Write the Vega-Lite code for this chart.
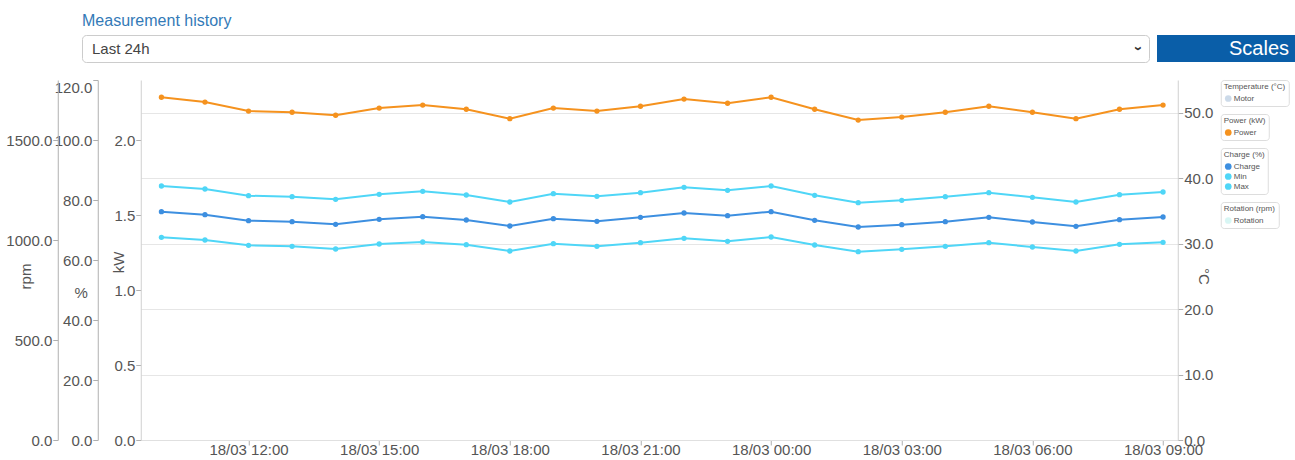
{
  "$schema": "https://vega.github.io/schema/vega-lite/v6.json",
  "background": "white",
  "padding": {"left": 5, "top": 12, "right": 0, "bottom": 0},
  "config": {
    "view": {"stroke": null},
    "title": {"anchor": "start", "fontSize": 16, "font": "Liberation Sans", "fontWeight": "normal", "color": "#337ab7", "offset": 6},
    "axis": {
      "labelFont": "Liberation Sans", "labelFontSize": 15, "labelColor": "#555",
      "titleFont": "Liberation Sans", "titleFontSize": 15, "titleFontWeight": "normal", "titleColor": "#555",
      "domainColor": "#b0b0b0", "tickColor": "#b0b0b0", "gridColor": "#e6e6e6", "tickSize": 5, "labelPadding": 1
    },
    "legend": {
      "orient": "right", "offset": 7, "titleFont": "Liberation Sans", "labelFont": "Liberation Sans",
      "titleFontSize": 8, "titleFontWeight": "normal", "titleColor": "#555", "labelFontSize": 8, "labelColor": "#555",
      "symbolSize": 45, "symbolType": "circle", "strokeColor": "#dddddd", "cornerRadius": 3,
      "padding": 3, "titlePadding": 3, "rowPadding": 1, "labelOffset": 1
    }
  },
  "datasets": {
    "history": [
      {"t": "2024-03-18T10:00:00", "Power": 2.285, "Charge": 76.1, "Min": 67.57, "Max": 84.67},
      {"t": "2024-03-18T11:00:00", "Power": 2.253, "Charge": 75.1, "Min": 66.67, "Max": 83.67},
      {"t": "2024-03-18T12:00:00", "Power": 2.193, "Charge": 73.1, "Min": 64.9, "Max": 81.43},
      {"t": "2024-03-18T13:00:00", "Power": 2.185, "Charge": 72.77, "Min": 64.57, "Max": 81.1},
      {"t": "2024-03-18T14:00:00", "Power": 2.165, "Charge": 71.9, "Min": 63.67, "Max": 80.23},
      {"t": "2024-03-18T15:00:00", "Power": 2.213, "Charge": 73.57, "Min": 65.33, "Max": 81.9},
      {"t": "2024-03-18T16:00:00", "Power": 2.233, "Charge": 74.43, "Min": 66.0, "Max": 82.9},
      {"t": "2024-03-18T17:00:00", "Power": 2.205, "Charge": 73.33, "Min": 65.1, "Max": 81.67},
      {"t": "2024-03-18T18:00:00", "Power": 2.142, "Charge": 71.33, "Min": 63.0, "Max": 79.33},
      {"t": "2024-03-18T19:00:00", "Power": 2.213, "Charge": 73.77, "Min": 65.43, "Max": 82.1},
      {"t": "2024-03-18T20:00:00", "Power": 2.193, "Charge": 72.9, "Min": 64.57, "Max": 81.23},
      {"t": "2024-03-18T21:00:00", "Power": 2.225, "Charge": 74.23, "Min": 65.77, "Max": 82.43},
      {"t": "2024-03-18T22:00:00", "Power": 2.273, "Charge": 75.67, "Min": 67.23, "Max": 84.23},
      {"t": "2024-03-18T23:00:00", "Power": 2.245, "Charge": 74.77, "Min": 66.23, "Max": 83.23},
      {"t": "2024-03-19T00:00:00", "Power": 2.285, "Charge": 76.1, "Min": 67.67, "Max": 84.67},
      {"t": "2024-03-19T01:00:00", "Power": 2.205, "Charge": 73.23, "Min": 65.0, "Max": 81.57},
      {"t": "2024-03-19T02:00:00", "Power": 2.133, "Charge": 71.0, "Min": 62.77, "Max": 79.1},
      {"t": "2024-03-19T03:00:00", "Power": 2.153, "Charge": 71.77, "Min": 63.57, "Max": 79.9},
      {"t": "2024-03-19T04:00:00", "Power": 2.185, "Charge": 72.77, "Min": 64.57, "Max": 81.1},
      {"t": "2024-03-19T05:00:00", "Power": 2.225, "Charge": 74.23, "Min": 65.77, "Max": 82.43},
      {"t": "2024-03-19T06:00:00", "Power": 2.185, "Charge": 72.67, "Min": 64.33, "Max": 80.9},
      {"t": "2024-03-19T07:00:00", "Power": 2.142, "Charge": 71.23, "Min": 63.0, "Max": 79.33},
      {"t": "2024-03-19T08:00:00", "Power": 2.205, "Charge": 73.43, "Min": 65.23, "Max": 81.77},
      {"t": "2024-03-19T09:00:00", "Power": 2.233, "Charge": 74.33, "Min": 65.9, "Max": 82.67}
    ]
  },
  "center": true,
  "spacing": 16,
  "vconcat": [
    {
      "spacing": 7,
      "hconcat": [
        {"width": 5, "height": 27, "title": " ", "data": {"values": [{"label": ""}]}, "mark": {"type": "text", "font": "Liberation Sans"}, "encoding": {"text": {"field": "label"}}},
        {
          "width": 1067, "height": 27,
          "title": "Measurement history",
          "view": {"stroke": "#cccccc", "fill": "white", "cornerRadius": 4},
          "data": {"values": [{"label": "Last 24h", "pos": 0}, {"label": "›", "pos": 1}]},
          "layer": [
            {
              "transform": [{"filter": "datum.pos == 0"}],
              "mark": {"type": "text", "font": "Liberation Sans", "align": "left", "baseline": "middle", "fontSize": 15, "color": "#444"},
              "encoding": {
                "x": {"field": "pos", "type": "quantitative", "scale": {"domain": [0, 1], "padding": 10}, "axis": null},
                "text": {"field": "label"}
              }
            },
            {
              "transform": [{"filter": "datum.pos == 1"}],
              "mark": {"type": "text", "font": "Liberation Sans", "align": "center", "baseline": "middle", "angle": 90, "fontSize": 15, "fontWeight": "bold", "color": "#333"},
              "encoding": {
                "x": {"field": "pos", "type": "quantitative", "scale": {"domain": [0, 1], "padding": 10}, "axis": null},
                "text": {"field": "label"}
              }
            }
          ]
        },
        {
          "width": 204, "height": 27,
          "title": " ",
          "view": {"fill": "#0a5ea8", "stroke": null},
          "data": {"values": [{"label": "Scales"}]},
          "mark": {"type": "text", "font": "Liberation Sans", "fontSize": 20, "color": "white", "align": "center", "baseline": "middle"},
          "encoding": {"text": {"field": "label"}}
        }
      ]
    },
    {
      "width": 1037, "height": 360,
      "data": {"name": "history"},
      "encoding": {
        "x": {
          "field": "t", "type": "temporal", "title": null,
          "scale": {"domain": [
            {"year": 2024, "month": 3, "date": 18, "hours": 9, "minutes": 31, "seconds": 30},
            {"year": 2024, "month": 3, "date": 19, "hours": 9, "minutes": 20, "seconds": 15}
          ]},
          "axis": {
            "values": [
              {"year": 2024, "month": 3, "date": 18, "hours": 12},
              {"year": 2024, "month": 3, "date": 18, "hours": 15},
              {"year": 2024, "month": 3, "date": 18, "hours": 18},
              {"year": 2024, "month": 3, "date": 18, "hours": 21},
              {"year": 2024, "month": 3, "date": 19, "hours": 0},
              {"year": 2024, "month": 3, "date": 19, "hours": 3},
              {"year": 2024, "month": 3, "date": 19, "hours": 6},
              {"year": 2024, "month": 3, "date": 19, "hours": 9}
            ],
            "format": "18/03 %H:%M",
            "grid": false, "labelFlush": false, "domainColor": "#e0e0e0", "labelPadding": -3
          }
        }
      },
      "layer": [
        {
          "transform": [{"fold": ["Motor"], "as": ["series", "v"]}],
          "mark": {"type": "point", "filled": true, "size": 28},
          "encoding": {
            "y": {"field": "v", "type": "quantitative", "scale": {"domain": [0, 55], "nice": false},
              "axis": {"orient": "right", "title": "°C", "values": [0, 10, 20, 30, 40, 50], "format": ".1f",
                "titleX": 26, "titleY": 196, "titleAngle": 90, "titleBaseline": "middle", "titleAlign": "center", "domainColor": "#d0d0d0"}},
            "color": {"field": "series", "type": "nominal", "scale": {"domain": ["Motor"], "range": ["#b6cbe0"]}, "legend": {"title": "Temperature (°C)"}}
          }
        },
        {
          "transform": [{"fold": ["Power"], "as": ["series", "v"]}],
          "mark": {"type": "line", "strokeWidth": 2},
          "encoding": {
            "y": {"field": "v", "type": "quantitative", "scale": {"domain": [0, 2.4], "nice": false}, "axis": null},
            "stroke": {"field": "series", "type": "nominal", "scale": {"domain": ["Power"], "range": ["#f5921e"]}, "legend": null}
          }
        },
        {
          "transform": [{"fold": ["Power"], "as": ["series", "v"]}],
          "mark": {"type": "point", "filled": true, "size": 28, "opacity": 1},
          "encoding": {
            "y": {"field": "v", "type": "quantitative", "scale": {"domain": [0, 2.4], "nice": false},
              "axis": {"orient": "left", "offset": 0, "title": "kW", "values": [0, 0.5, 1, 1.5, 2], "format": ".1f",
                "titleX": -22, "titleY": 182, "titleAngle": 270, "titleBaseline": "middle", "titleAlign": "center", "domainColor": "#d0d0d0"}},
            "color": {"field": "series", "type": "nominal", "scale": {"domain": ["Power"], "range": ["#f5921e"]}, "legend": {"title": "Power (kW)"}}
          }
        },
        {
          "transform": [{"fold": ["Charge", "Min", "Max"], "as": ["series", "v"]}],
          "mark": {"type": "line", "strokeWidth": 2},
          "encoding": {
            "y": {"field": "v", "type": "quantitative", "scale": {"domain": [0, 120], "nice": false}, "axis": null},
            "stroke": {"field": "series", "type": "nominal", "scale": {"domain": ["Charge", "Min", "Max"], "range": ["#3d8fe0", "#4fd6f7", "#4fd6f7"]}, "legend": null}
          }
        },
        {
          "transform": [{"fold": ["Charge", "Min", "Max"], "as": ["series", "v"]}],
          "mark": {"type": "point", "filled": true, "size": 28, "opacity": 1},
          "encoding": {
            "y": {"field": "v", "type": "quantitative", "scale": {"domain": [0, 120], "nice": false},
              "axis": {"orient": "left", "offset": 43, "title": "%", "values": [0, 20, 40, 60, 80, 100, 120], "format": ".1f",
                "labelBaseline": {"condition": {"test": "datum.value >= 120", "value": "top"}, "value": "middle"},
                "titleX": -17, "titleY": 212, "titleAngle": 0, "titleBaseline": "middle", "titleAlign": "center"}},
            "color": {"field": "series", "type": "nominal", "scale": {"domain": ["Charge", "Min", "Max"], "range": ["#3d8fe0", "#4fd6f7", "#4fd6f7"]}, "legend": {"title": "Charge (%)"}}
          }
        },
        {
          "transform": [{"fold": ["Rotation"], "as": ["series", "v"]}],
          "mark": {"type": "point", "filled": true, "size": 28},
          "encoding": {
            "y": {"field": "v", "type": "quantitative", "scale": {"domain": [0, 1800], "nice": false},
              "axis": {"orient": "left", "offset": 83, "title": "rpm", "values": [0, 500, 1000, 1500], "format": ".1f",
                "titleX": -32, "titleY": 196, "titleAngle": 270, "titleBaseline": "middle", "titleAlign": "center"}},
            "color": {"field": "series", "type": "nominal", "scale": {"domain": ["Rotation"], "range": ["#c8f2f0"]}, "legend": {"title": "Rotation (rpm)"}}
          }
        }
      ],
      "resolve": {"scale": {"y": "independent", "color": "independent", "stroke": "independent"}, "legend": {"color": "independent"}}
    }
  ]
}
